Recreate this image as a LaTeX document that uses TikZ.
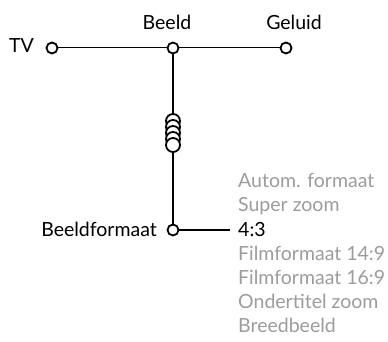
\documentclass[tikz,border=0pt]{standalone}
\usepackage{fontspec}
\setmainfont{Lato}
\definecolor{opt}{HTML}{9C9C9C}
\tikzset{
  dot/.style={circle,draw=black,fill=white,line width=1.8pt,minimum size=11pt,inner sep=0pt},
  ring/.style={circle,draw=black,fill=white,line width=1.8pt,minimum size=14pt,inner sep=0pt},
  lbl/.style={font=\fontsize{19.5}{21}\selectfont,inner sep=0pt},
  optlbl/.style={lbl,text=opt,anchor=base west},
}
\begin{document}
\begin{tikzpicture}[x=1pt,y=1pt]
\useasboundingbox (0,0) rectangle (388,342);
% main nodes
\coordinate (tvp) at (52,294);
\coordinate (beeldp) at (173,294);
\coordinate (geluidp) at (286,294);
\coordinate (bfp) at (173,112);
\coordinate (endp) at (230,112);
% connectors
\draw[line width=1pt] (tvp) -- (geluidp);
\draw[line width=2pt] (beeldp) -- (bfp);
\draw[line width=2pt] (bfp) -- (endp);
% stack
\foreach \i/\yy in {1/221,2/215,3/209,4/203,5/197}
  \node[ring] (s\i) at (173,\yy) {};
% dots
\node[dot] (tv) at (tvp) {};
\node[dot] (beeld) at (beeldp) {};
\node[dot] (geluid) at (geluidp) {};
\node[dot] (bf) at (bfp) {};
% labels
\node[lbl,anchor=base east] (tvl) at (34,289) {TV};
\node[lbl,anchor=base] (beeldl) at (167,312) {Beeld};
\node[lbl,anchor=base] (geluidl) at (294,312) {Geluid};
\node[lbl,anchor=base east] (bfl) at (157,105) {Beeldformaat};
\node[optlbl] (o1) at (238,154) {Autom. formaat};
\node[optlbl] (o2) at (238,130) {Super zoom};
\node[lbl,anchor=base west] (o3) at (238,105) {4:3};
\node[optlbl] (o4) at (238,81) {Filmformaat 14:9};
\node[optlbl] (o5) at (238,57) {Filmformaat 16:9};
\node[optlbl] (o6) at (238,33) {Ondertitel zoom};
\node[optlbl] (o7) at (238,9) {Breedbeeld};
\end{tikzpicture}
\end{document}
